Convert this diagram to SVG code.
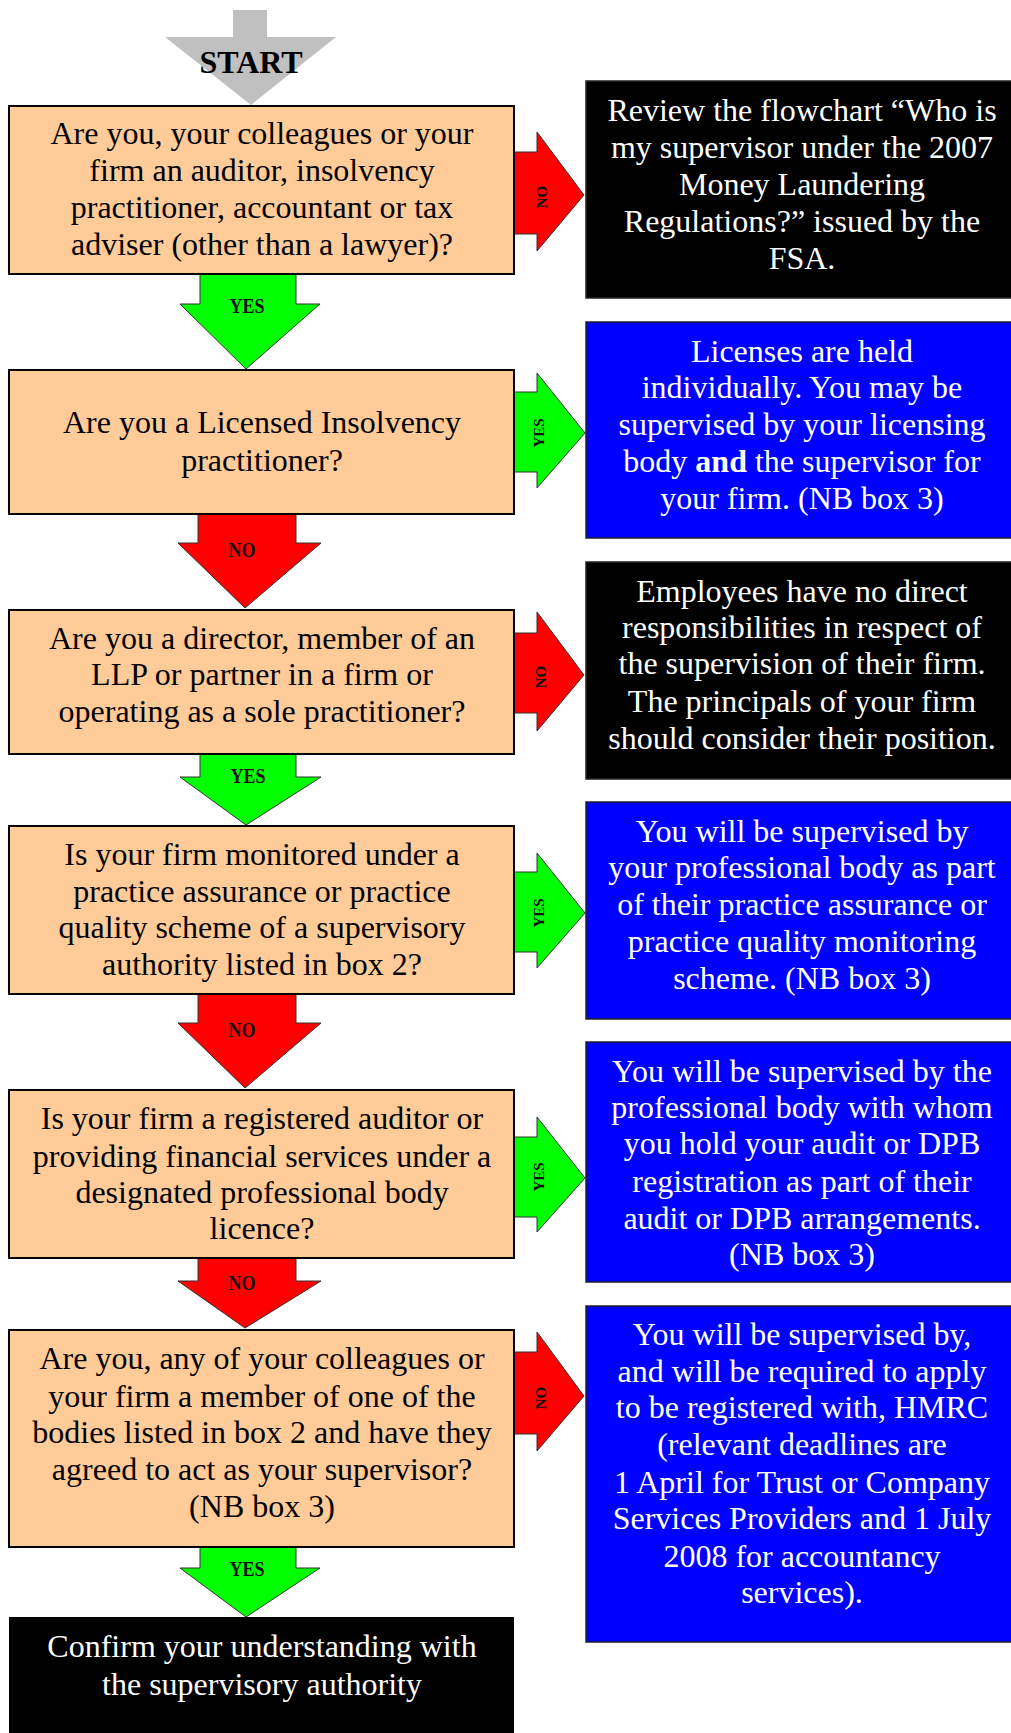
<svg xmlns="http://www.w3.org/2000/svg" width="1011" height="1733" viewBox="0 0 1011 1733">
<style>
.q{fill:#FFCC99;stroke:#000;stroke-width:2}
.blk{fill:#000;stroke:#222;stroke-width:1.5}
.blu{fill:#0000FF;stroke:#222;stroke-width:1.5}
.t{font-family:"Liberation Serif","Times New Roman",serif;font-size:32px;text-anchor:middle}
.tb{fill:#000}
.tw{fill:#fff}
.ag{fill:#00FF00;stroke:#333;stroke-width:1}
.ar{fill:#FF0000;stroke:#333;stroke-width:1}
.lbl{font-family:"Liberation Serif","Times New Roman",serif;font-weight:bold;fill:#111;text-anchor:middle}
.ld{font-size:18px}
.lr{font-size:15px;dominant-baseline:central}
</style>
<rect width="1011" height="1733" fill="#fff"/>

<g id="connectors">
  <!-- down arrows -->
  <path class="ag" d="M200,274 L296,274 L296,304 L320,304 L246,369 L180,304 L200,304 Z"/>
  <text class="lbl ld" transform="translate(247,313) scale(1,1.18)">YES</text>
  <path class="ar" d="M198,514 L296,514 L296,543 L321,543 L245,608 L178,543 L198,543 Z"/>
  <text class="lbl ld" transform="translate(242,557) scale(1,1.18)">NO</text>
  <path class="ag" d="M200,754 L296,754 L296,777 L321,777 L246,825 L180,777 L200,777 Z"/>
  <text class="lbl ld" transform="translate(248,783) scale(1,1.18)">YES</text>
  <path class="ar" d="M198,994 L296,994 L296,1023 L321,1023 L245,1088 L178,1023 L198,1023 Z"/>
  <text class="lbl ld" transform="translate(242,1037) scale(1,1.18)">NO</text>
  <path class="ar" d="M198,1258 L296,1258 L296,1281 L321,1281 L245,1328 L178,1281 L198,1281 Z"/>
  <text class="lbl ld" transform="translate(242,1290) scale(1,1.18)">NO</text>
  <path class="ag" d="M200,1547 L296,1547 L296,1568 L320,1568 L246,1617 L180,1568 L200,1568 Z"/>
  <text class="lbl ld" transform="translate(247,1576) scale(1,1.18)">YES</text>

  <!-- right arrows -->
  <path class="ar" d="M514,152 L537,152 L537,132 L584,195 L537,251 L537,234 L514,234 Z"/>
  <text class="lbl lr" transform="translate(542,197) rotate(-90)">NO</text>
  <path class="ag" d="M514,392 L537,392 L537,373 L585,433 L537,488 L537,472 L514,472 Z"/>
  <text class="lbl lr" transform="translate(539,433) rotate(-90)">YES</text>
  <path class="ar" d="M514,633 L537,633 L537,612 L584,675 L537,731 L537,713 L514,713 Z"/>
  <text class="lbl lr" transform="translate(541,677) rotate(-90)">NO</text>
  <path class="ag" d="M514,872 L537,872 L537,853 L585,913 L537,968 L537,952 L514,952 Z"/>
  <text class="lbl lr" transform="translate(539,913) rotate(-90)">YES</text>
  <path class="ag" d="M514,1137 L537,1137 L537,1117 L585,1178 L537,1232 L537,1217 L514,1217 Z"/>
  <text class="lbl lr" transform="translate(539,1177) rotate(-90)">YES</text>
  <path class="ar" d="M514,1352 L537,1352 L537,1332 L584,1396 L537,1451 L537,1434 L514,1434 Z"/>
  <text class="lbl lr" transform="translate(541,1398) rotate(-90)">NO</text>
</g>

<g id="start">
  <path d="M233,10 L267,10 L267,37 L336,37 L251,105 L165,37 L233,37 Z" fill="#C0C0C0"/>
  <text x="251" y="73" font-family="'Liberation Serif','Times New Roman',serif" font-weight="bold" font-size="32" text-anchor="middle" fill="#000">START</text>
</g>

<g id="q1">
  <rect class="q" x="9" y="106" width="505" height="168"/>
  <text class="t tb"><tspan x="262" y="144">Are you, your colleagues or your</tspan><tspan x="262" y="181">firm an auditor, insolvency</tspan><tspan x="262" y="218">practitioner, accountant or tax</tspan><tspan x="262" y="255">adviser (other than a lawyer)?</tspan></text>
</g>

<g id="q2">
  <rect class="q" x="9" y="370" width="505" height="144"/>
  <text class="t tb"><tspan x="262" y="433">Are you a Licensed Insolvency</tspan><tspan x="262" y="471">practitioner?</tspan></text>
</g>

<g id="q3">
  <rect class="q" x="9" y="610" width="505" height="144"/>
  <text class="t tb"><tspan x="262" y="649">Are you a director, member of an</tspan><tspan x="262" y="685">LLP or partner in a firm or</tspan><tspan x="262" y="722">operating as a sole practitioner?</tspan></text>
</g>

<g id="q4">
  <rect class="q" x="9" y="826" width="505" height="168"/>
  <text class="t tb"><tspan x="262" y="865">Is your firm monitored under a</tspan><tspan x="262" y="902">practice assurance or practice</tspan><tspan x="262" y="938">quality scheme of a supervisory</tspan><tspan x="262" y="975">authority listed in box 2?</tspan></text>
</g>

<g id="q5">
  <rect class="q" x="9" y="1090" width="505" height="168"/>
  <text class="t tb"><tspan x="262" y="1129">Is your firm a registered auditor or</tspan><tspan x="262" y="1167">providing financial services under a</tspan><tspan x="262" y="1203">designated professional body</tspan><tspan x="262" y="1239">licence?</tspan></text>
</g>

<g id="q6">
  <rect class="q" x="9" y="1330" width="505" height="217"/>
  <text class="t tb"><tspan x="262" y="1369">Are you, any of your colleagues or</tspan><tspan x="262" y="1407">your firm a member of one of the</tspan><tspan x="262" y="1443">bodies listed in box 2 and have they</tspan><tspan x="262" y="1480">agreed to act as your supervisor?</tspan><tspan x="262" y="1517">(NB box 3)</tspan></text>
</g>

<g id="confirm">
  <rect x="9" y="1617" width="505" height="120" fill="#000"/>
  <text class="t tw"><tspan x="262" y="1657">Confirm your understanding with</tspan><tspan x="262" y="1695">the supervisory authority</tspan></text>
</g>

<g id="r1">
  <rect class="blk" x="586" y="81" width="430" height="217"/>
  <text class="t tw"><tspan x="802" y="121">Review the flowchart “Who is</tspan><tspan x="802" y="158">my supervisor under the 2007</tspan><tspan x="802" y="195">Money Laundering</tspan><tspan x="802" y="232">Regulations?” issued by the</tspan><tspan x="802" y="269">FSA.</tspan></text>
</g>

<g id="r2">
  <rect class="blu" x="586" y="322" width="430" height="216"/>
  <text class="t tw"><tspan x="802" y="362">Licenses are held</tspan><tspan x="802" y="398">individually. You may be</tspan><tspan x="802" y="435">supervised by your licensing</tspan><tspan x="802" y="472">body <tspan font-weight="bold">and</tspan> the supervisor for</tspan><tspan x="802" y="509">your firm. (NB box 3)</tspan></text>
</g>

<g id="r3">
  <rect class="blk" x="586" y="562" width="430" height="217"/>
  <text class="t tw"><tspan x="802" y="602">Employees have no direct</tspan><tspan x="802" y="638">responsibilities in respect of</tspan><tspan x="802" y="674">the supervision of their firm.</tspan><tspan x="802" y="712">The principals of your firm</tspan><tspan x="802" y="749">should consider their position.</tspan></text>
</g>

<g id="r4">
  <rect class="blu" x="586" y="802" width="430" height="217"/>
  <text class="t tw"><tspan x="802" y="842">You will be supervised by</tspan><tspan x="802" y="878">your professional body as part</tspan><tspan x="802" y="915">of their practice assurance or</tspan><tspan x="802" y="952">practice quality monitoring</tspan><tspan x="802" y="989">scheme. (NB box 3)</tspan></text>
</g>

<g id="r5">
  <rect class="blu" x="586" y="1042" width="430" height="240"/>
  <text class="t tw"><tspan x="802" y="1082">You will be supervised by the</tspan><tspan x="802" y="1118">professional body with whom</tspan><tspan x="802" y="1154">you hold your audit or DPB</tspan><tspan x="802" y="1192">registration as part of their</tspan><tspan x="802" y="1229">audit or DPB arrangements.</tspan><tspan x="802" y="1265">(NB box 3)</tspan></text>
</g>

<g id="r6">
  <rect class="blu" x="586" y="1306" width="430" height="336"/>
  <text class="t tw"><tspan x="802" y="1345">You will be supervised by,</tspan><tspan x="802" y="1382">and will be required to apply</tspan><tspan x="802" y="1418">to be registered with, HMRC</tspan><tspan x="802" y="1455">(relevant deadlines are</tspan><tspan x="802" y="1493">1 April for Trust or Company</tspan><tspan x="802" y="1529">Services Providers and 1 July</tspan><tspan x="802" y="1567">2008 for accountancy</tspan><tspan x="802" y="1603">services).</tspan></text>
</g>
</svg>
